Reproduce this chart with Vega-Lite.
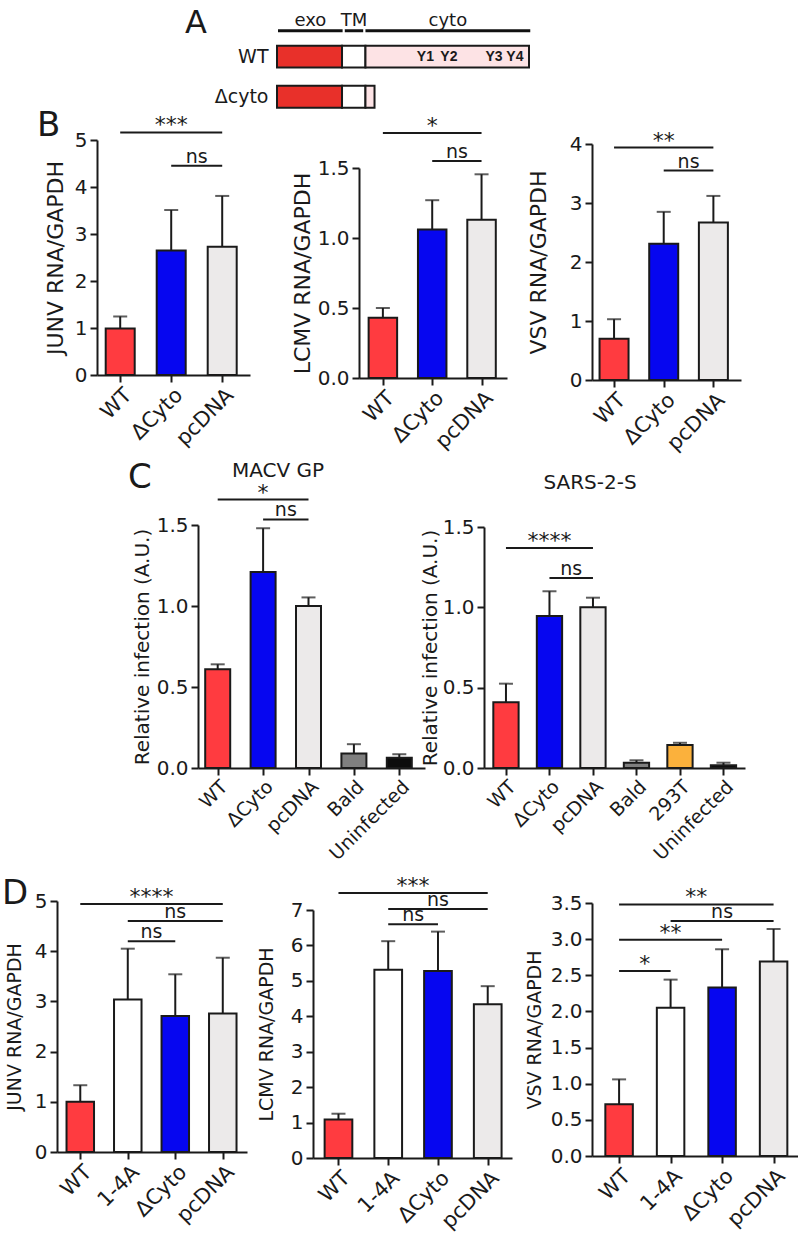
{
  "$schema": "https://vega.github.io/schema/vega-lite/v6.json",
  "padding": 0,
  "autosize": {"type": "pad"},
  "spacing": 0,
  "config": {
    "view": {"stroke": null},
    "font": "DejaVu Sans",
    "axis": {"domainColor": "#1a1a1a", "domainWidth": 2, "tickColor": "#1a1a1a", "tickWidth": 2, "tickSize": 7, "labelColor": "#1a1a1a", "titleColor": "#1a1a1a", "labelFont": "DejaVu Sans", "titleFont": "DejaVu Sans", "titleFontWeight": "normal", "labelFontSize": 20, "titleFontSize": 19, "grid": false, "labelPadding": 3},
    "axisX": {"labelFontSize": 21, "labelAngle": -45, "labelPadding": 2},
    "axisY": {"minExtent": 20, "maxExtent": 20, "titleBaseline": "middle"},
    "title": {"font": "DejaVu Sans", "fontWeight": "normal", "color": "#1a1a1a"},
    "text": {"font": "DejaVu Sans", "color": "#1a1a1a"}
  },
  "datasets": {
    "A_header": [
      {"domain": "exo", "start": 0, "end": 26.5},
      {"domain": "TM", "start": 26.5, "end": 34.7},
      {"domain": "cyto", "start": 34.7, "end": 100.9}
    ],
    "A_constructs": [
      {"construct": "WT", "domain": "exo", "start": 0, "end": 25.8},
      {"construct": "WT", "domain": "TM", "start": 25.8, "end": 35.1},
      {"construct": "WT", "domain": "cyto", "start": 35.1, "end": 100},
      {"construct": "Δcyto", "domain": "exo", "start": 0, "end": 25.8},
      {"construct": "Δcyto", "domain": "TM", "start": 25.8, "end": 35.1},
      {"construct": "Δcyto", "domain": "cyto", "start": 35.1, "end": 38.7}
    ],
    "A_sites": [
      {"construct": "WT", "site": "Y1", "pos": 58.9},
      {"construct": "WT", "site": "Y2", "pos": 68.2},
      {"construct": "WT", "site": "Y3", "pos": 86.1},
      {"construct": "WT", "site": "Y4", "pos": 94.4}
    ],
    "B1": [
      {"group": "WT", "value": 0.99, "upper": 1.245},
      {"group": "ΔCyto", "value": 2.65, "upper": 3.51},
      {"group": "pcDNA", "value": 2.73, "upper": 3.81}
    ],
    "B1s": [
      {"from": "WT", "to": "pcDNA", "mid": "ΔCyto", "label": "***", "level": 5.16},
      {"from": "ΔCyto", "to": "pcDNA", "mid": "ΔCyto|pcDNA", "label": "ns", "level": 4.45}
    ],
    "B2": [
      {"group": "WT", "value": 0.43, "upper": 0.5},
      {"group": "ΔCyto", "value": 1.06, "upper": 1.27},
      {"group": "pcDNA", "value": 1.13, "upper": 1.455}
    ],
    "B2s": [
      {"from": "WT", "to": "pcDNA", "mid": "ΔCyto", "label": "*", "level": 1.75},
      {"from": "ΔCyto", "to": "pcDNA", "mid": "ΔCyto|pcDNA", "label": "ns", "level": 1.55}
    ],
    "B3": [
      {"group": "WT", "value": 0.7, "upper": 1.03},
      {"group": "ΔCyto", "value": 2.31, "upper": 2.85},
      {"group": "pcDNA", "value": 2.67, "upper": 3.12}
    ],
    "B3s": [
      {"from": "WT", "to": "pcDNA", "mid": "ΔCyto", "label": "**", "level": 3.94},
      {"from": "ΔCyto", "to": "pcDNA", "mid": "ΔCyto|pcDNA", "label": "ns", "level": 3.55}
    ],
    "C1": [
      {"group": "WT", "value": 0.61, "upper": 0.64},
      {"group": "ΔCyto", "value": 1.21, "upper": 1.48},
      {"group": "pcDNA", "value": 1.0, "upper": 1.053},
      {"group": "Bald", "value": 0.09, "upper": 0.147},
      {"group": "Uninfected", "value": 0.064, "upper": 0.085}
    ],
    "C1s": [
      {"from": "WT", "to": "pcDNA", "mid": "ΔCyto", "label": "*", "level": 1.657},
      {"from": "ΔCyto", "to": "pcDNA", "mid": "ΔCyto|pcDNA", "label": "ns", "level": 1.534}
    ],
    "C2": [
      {"group": "WT", "value": 0.41, "upper": 0.525},
      {"group": "ΔCyto", "value": 0.946, "upper": 1.1},
      {"group": "pcDNA", "value": 1.0, "upper": 1.06},
      {"group": "Bald", "value": 0.033, "upper": 0.048},
      {"group": "293T", "value": 0.143, "upper": 0.157},
      {"group": "Uninfected", "value": 0.017, "upper": 0.033}
    ],
    "C2s": [
      {"from": "WT", "to": "pcDNA", "mid": "ΔCyto", "label": "****", "level": 1.369},
      {"from": "ΔCyto", "to": "pcDNA", "mid": "ΔCyto|pcDNA", "label": "ns", "level": 1.182}
    ],
    "D1": [
      {"group": "WT", "value": 1.0, "upper": 1.33},
      {"group": "1-4A", "value": 3.04, "upper": 4.05},
      {"group": "ΔCyto", "value": 2.71, "upper": 3.54},
      {"group": "pcDNA", "value": 2.76, "upper": 3.87}
    ],
    "D1s": [
      {"from": "WT", "to": "pcDNA", "mid": "1-4A|ΔCyto", "label": "****", "level": 4.94},
      {"from": "1-4A", "to": "pcDNA", "mid": "ΔCyto", "label": "ns", "level": 4.6},
      {"from": "1-4A", "to": "ΔCyto", "mid": "1-4A|ΔCyto", "label": "ns", "level": 4.2}
    ],
    "D2": [
      {"group": "WT", "value": 1.09, "upper": 1.25},
      {"group": "1-4A", "value": 5.31, "upper": 6.12},
      {"group": "ΔCyto", "value": 5.28, "upper": 6.39},
      {"group": "pcDNA", "value": 4.34, "upper": 4.85}
    ],
    "D2s": [
      {"from": "WT", "to": "pcDNA", "mid": "1-4A|ΔCyto", "label": "***", "level": 7.48},
      {"from": "1-4A", "to": "pcDNA", "mid": "ΔCyto", "label": "ns", "level": 7.03},
      {"from": "1-4A", "to": "ΔCyto", "mid": "1-4A|ΔCyto", "label": "ns", "level": 6.6}
    ],
    "D3": [
      {"group": "WT", "value": 0.716, "upper": 1.06},
      {"group": "1-4A", "value": 2.05, "upper": 2.44},
      {"group": "ΔCyto", "value": 2.33, "upper": 2.86},
      {"group": "pcDNA", "value": 2.69, "upper": 3.14}
    ],
    "D3s": [
      {"from": "WT", "to": "pcDNA", "mid": "1-4A|ΔCyto", "label": "**", "level": 3.48},
      {"from": "1-4A", "to": "pcDNA", "mid": "ΔCyto", "label": "ns", "level": 3.25},
      {"from": "WT", "to": "ΔCyto", "mid": "1-4A", "label": "**", "level": 2.99},
      {"from": "WT", "to": "1-4A", "mid": "WT|1-4A", "label": "*", "level": 2.56}
    ]
  },
  "vconcat": [
    {
      "hconcat": [
        {"width": 277, "height": 108, "data": {"values": []}, "mark": "point",
         "title": {"text": "A", "fontSize": 32, "anchor": "start", "frame": "group", "orient": "top", "offset": -39.7, "dx": 185}},
        {
          "width": 252, "height": 108,
          "resolve": {"scale": {"y": "independent"}},
          "layer": [
            {"data": {"name": "A_header"},
             "mark": {"type": "bar", "color": "#111111", "stroke": "#ffffff", "strokeWidth": 2},
             "encoding": {
               "x": {"field": "start", "type": "quantitative", "scale": {"domain": [0, 100], "nice": false, "zero": false}, "axis": null},
               "x2": {"field": "end"},
               "y": {"datum": "line", "type": "nominal", "scale": {"type": "band", "domain": ["label", "line"], "range": [18.8, 33.3], "paddingInner": 0.474, "paddingOuter": 0}, "axis": null}
             }},
            {"data": {"name": "A_header"},
             "transform": [{"fold": ["start", "end"], "as": ["edge", "pos"]}],
             "mark": {"type": "text", "fontSize": 18, "baseline": "middle", "align": "center"},
             "encoding": {
               "x": {"aggregate": "mean", "field": "pos", "type": "quantitative"},
               "y": {"datum": "label", "type": "nominal", "scale": {"type": "band", "domain": ["label", "line"], "range": [18.8, 33.3], "paddingInner": 0.474, "paddingOuter": 0}, "axis": null},
               "text": {"field": "domain"}
             }},
            {"data": {"name": "A_constructs"},
             "mark": {"type": "bar", "stroke": "#1a1a1a", "strokeWidth": 2},
             "encoding": {
               "x": {"field": "start", "type": "quantitative"},
               "x2": {"field": "end"},
               "y": {"field": "construct", "type": "nominal", "title": null,
                     "scale": {"type": "band", "domain": ["WT", "Δcyto"], "range": [45.7, 107.7], "paddingInner": 0.454, "paddingOuter": 0},
                     "axis": {"domain": false, "ticks": false, "labelPadding": 9, "labelFontSize": 19}},
               "fill": {"field": "domain", "type": "nominal", "scale": {"domain": ["exo", "TM", "cyto"], "range": ["#E8302A", "#FFFFFF", "#FDE3E5"]}, "legend": null}
             }},
            {"data": {"name": "A_sites"},
             "mark": {"type": "text", "fontSize": 14, "fontWeight": "bold", "font": "Liberation Sans", "baseline": "middle", "align": "center"},
             "encoding": {
               "x": {"field": "pos", "type": "quantitative"},
               "y": {"field": "construct", "type": "nominal", "scale": {"type": "band", "domain": ["WT", "Δcyto"], "range": [45.7, 107.7], "paddingInner": 0.454, "paddingOuter": 0}, "axis": null},
               "text": {"field": "site"}
             }}
          ]
        }
      ],
      "spacing": 0, "bounds": "flush"
    },
    {
      "hconcat": [
        {"width": 97, "height": 352, "data": {"values": []}, "mark": "point",
         "title": {"text": "B", "fontSize": 34, "anchor": "start", "frame": "group", "orient": "top", "offset": -34, "dx": 37}},
        {
          "width": 153, "height": 266,
          "layer": [
            {"data": {"name": "B1"}, "mark": {"type": "bar", "width": 29, "stroke": "#1a1a1a", "strokeWidth": 2},
             "encoding": {
               "x": {"field": "group", "type": "nominal", "title": null, "scale": {"type": "point", "domain": ["WT", "WT|ΔCyto", "ΔCyto", "ΔCyto|pcDNA", "pcDNA"], "padding": 1.517, "align": 0.455}, "axis": {"values": ["WT", "ΔCyto", "pcDNA"]}},
               "y": {"field": "value", "type": "quantitative", "scale": {"domain": [0, 5], "range": [266, 31], "nice": false, "zero": true}, "axis": {"title": "JUNV RNA/GAPDH", "titleFontSize": 22, "titleX": -42, "values": [0, 1, 2, 3, 4, 5], "format": "d"}},
               "color": {"field": "group", "type": "nominal", "scale": {"domain": ["WT", "1-4A", "ΔCyto", "pcDNA", "Bald", "293T", "Uninfected"], "range": ["#FF3B40", "#FFFFFF", "#0606F0", "#ECEAEA", "#7F7F7F", "#FBB13C", "#0D0D0D"]}, "legend": null}
             }},
            {"data": {"name": "B1"}, "mark": {"type": "rule", "color": "#1a1a1a", "strokeWidth": 2},
             "encoding": {"x": {"field": "group", "type": "nominal", "title": null}, "y": {"field": "value", "type": "quantitative"}, "y2": {"field": "upper"}}},
            {"data": {"name": "B1"}, "mark": {"type": "tick", "color": "#1a1a1a", "thickness": 2, "size": 14, "orient": "horizontal"},
             "encoding": {"x": {"field": "group", "type": "nominal", "title": null}, "y": {"field": "upper", "type": "quantitative"}}},
            {"data": {"name": "B1s"}, "mark": {"type": "rule", "color": "#1a1a1a", "strokeWidth": 2},
             "encoding": {"x": {"field": "from", "type": "nominal", "title": null}, "x2": {"field": "to"}, "y": {"field": "level", "type": "quantitative"}}},
            {"data": {"name": "B1s"}, "transform": [{"filter": "datum.label !== 'ns'"}], "mark": {"type": "text", "fontSize": 22, "dy": 0, "baseline": "alphabetic"},
             "encoding": {"x": {"field": "mid", "type": "nominal", "title": null}, "y": {"field": "level", "type": "quantitative"}, "text": {"field": "label"}}},
            {"data": {"name": "B1s"}, "transform": [{"filter": "datum.label === 'ns'"}], "mark": {"type": "text", "fontSize": 19, "dy": -3, "baseline": "alphabetic"},
             "encoding": {"x": {"field": "mid", "type": "nominal", "title": null}, "y": {"field": "level", "type": "quantitative"}, "text": {"field": "label"}}}
          ]
        },
        {"width": 109, "height": 1, "data": {"values": []}, "mark": "point"},
        {
          "width": 148, "height": 269,
          "layer": [
            {"data": {"name": "B2"}, "mark": {"type": "bar", "width": 28.5, "stroke": "#1a1a1a", "strokeWidth": 2},
             "encoding": {
               "x": {"field": "group", "type": "nominal", "title": null, "scale": {"type": "point", "domain": ["WT", "WT|ΔCyto", "ΔCyto", "ΔCyto|pcDNA", "pcDNA"], "padding": 1.442, "align": 0.484}, "axis": {"values": ["WT", "ΔCyto", "pcDNA"]}},
               "y": {"field": "value", "type": "quantitative", "scale": {"domain": [0, 1.5], "range": [269, 59], "nice": false, "zero": true}, "axis": {"title": "LCMV RNA/GAPDH", "titleFontSize": 22, "titleX": -57, "values": [0, 0.5, 1, 1.5], "format": ".1f"}},
               "color": {"field": "group", "type": "nominal", "scale": {"domain": ["WT", "1-4A", "ΔCyto", "pcDNA", "Bald", "293T", "Uninfected"], "range": ["#FF3B40", "#FFFFFF", "#0606F0", "#ECEAEA", "#7F7F7F", "#FBB13C", "#0D0D0D"]}, "legend": null}
             }},
            {"data": {"name": "B2"}, "mark": {"type": "rule", "color": "#1a1a1a", "strokeWidth": 2},
             "encoding": {"x": {"field": "group", "type": "nominal", "title": null}, "y": {"field": "value", "type": "quantitative"}, "y2": {"field": "upper"}}},
            {"data": {"name": "B2"}, "mark": {"type": "tick", "color": "#1a1a1a", "thickness": 2, "size": 14, "orient": "horizontal"},
             "encoding": {"x": {"field": "group", "type": "nominal", "title": null}, "y": {"field": "upper", "type": "quantitative"}}},
            {"data": {"name": "B2s"}, "mark": {"type": "rule", "color": "#1a1a1a", "strokeWidth": 2},
             "encoding": {"x": {"field": "from", "type": "nominal", "title": null}, "x2": {"field": "to"}, "y": {"field": "level", "type": "quantitative"}}},
            {"data": {"name": "B2s"}, "transform": [{"filter": "datum.label !== 'ns'"}], "mark": {"type": "text", "fontSize": 22, "dy": 0, "baseline": "alphabetic"},
             "encoding": {"x": {"field": "mid", "type": "nominal", "title": null}, "y": {"field": "level", "type": "quantitative"}, "text": {"field": "label"}}},
            {"data": {"name": "B2s"}, "transform": [{"filter": "datum.label === 'ns'"}], "mark": {"type": "text", "fontSize": 19, "dy": -3, "baseline": "alphabetic"},
             "encoding": {"x": {"field": "mid", "type": "nominal", "title": null}, "y": {"field": "level", "type": "quantitative"}, "text": {"field": "label"}}}
          ]
        },
        {"width": 85, "height": 1, "data": {"values": []}, "mark": "point"},
        {
          "width": 149, "height": 271,
          "layer": [
            {"data": {"name": "B3"}, "mark": {"type": "bar", "width": 29, "stroke": "#1a1a1a", "strokeWidth": 2},
             "encoding": {
               "x": {"field": "group", "type": "nominal", "title": null, "scale": {"type": "point", "domain": ["WT", "WT|ΔCyto", "ΔCyto", "ΔCyto|pcDNA", "pcDNA"], "padding": 1.465, "align": 0.444}, "axis": {"values": ["WT", "ΔCyto", "pcDNA"]}},
               "y": {"field": "value", "type": "quantitative", "scale": {"domain": [0, 4], "range": [271, 35], "nice": false, "zero": true}, "axis": {"title": "VSV RNA/GAPDH", "titleFontSize": 22, "titleX": -54, "values": [0, 1, 2, 3, 4], "format": "d"}},
               "color": {"field": "group", "type": "nominal", "scale": {"domain": ["WT", "1-4A", "ΔCyto", "pcDNA", "Bald", "293T", "Uninfected"], "range": ["#FF3B40", "#FFFFFF", "#0606F0", "#ECEAEA", "#7F7F7F", "#FBB13C", "#0D0D0D"]}, "legend": null}
             }},
            {"data": {"name": "B3"}, "mark": {"type": "rule", "color": "#1a1a1a", "strokeWidth": 2},
             "encoding": {"x": {"field": "group", "type": "nominal", "title": null}, "y": {"field": "value", "type": "quantitative"}, "y2": {"field": "upper"}}},
            {"data": {"name": "B3"}, "mark": {"type": "tick", "color": "#1a1a1a", "thickness": 2, "size": 14, "orient": "horizontal"},
             "encoding": {"x": {"field": "group", "type": "nominal", "title": null}, "y": {"field": "upper", "type": "quantitative"}}},
            {"data": {"name": "B3s"}, "mark": {"type": "rule", "color": "#1a1a1a", "strokeWidth": 2},
             "encoding": {"x": {"field": "from", "type": "nominal", "title": null}, "x2": {"field": "to"}, "y": {"field": "level", "type": "quantitative"}}},
            {"data": {"name": "B3s"}, "transform": [{"filter": "datum.label !== 'ns'"}], "mark": {"type": "text", "fontSize": 22, "dy": 0, "baseline": "alphabetic"},
             "encoding": {"x": {"field": "mid", "type": "nominal", "title": null}, "y": {"field": "level", "type": "quantitative"}, "text": {"field": "label"}}},
            {"data": {"name": "B3s"}, "transform": [{"filter": "datum.label === 'ns'"}], "mark": {"type": "text", "fontSize": 19, "dy": -3, "baseline": "alphabetic"},
             "encoding": {"x": {"field": "mid", "type": "nominal", "title": null}, "y": {"field": "level", "type": "quantitative"}, "text": {"field": "label"}}}
          ]
        }
      ],
      "spacing": 0, "bounds": "flush"
    },
    {
      "hconcat": [
        {"width": 198, "height": 406, "data": {"values": []}, "mark": "point",
         "title": {"text": "C", "fontSize": 34, "anchor": "start", "frame": "group", "orient": "top", "offset": -34, "dx": 128}},
        {
          "width": 227, "height": 307,
          "title": {"text": "MACV GP", "fontSize": 20, "anchor": "middle", "frame": "group", "orient": "top", "offset": -20, "dx": -33.5},
          "layer": [
            {"data": {"name": "C1"}, "mark": {"type": "bar", "width": 25, "stroke": "#1a1a1a", "strokeWidth": 2},
             "encoding": {
               "x": {"field": "group", "type": "nominal", "title": null, "scale": {"type": "point", "domain": ["WT", "WT|ΔCyto", "ΔCyto", "ΔCyto|pcDNA", "pcDNA", "pcDNA|Bald", "Bald", "Bald|Uninfected", "Uninfected"], "padding": 1.55, "align": 0.434}, "axis": {"values": ["WT", "ΔCyto", "pcDNA", "Bald", "Uninfected"], "labelFontSize": 19}},
               "y": {"field": "value", "type": "quantitative", "scale": {"domain": [0, 1.5], "range": [307, 64], "nice": false, "zero": true}, "axis": {"title": "Relative infection (A.U.)", "titleFontSize": 20, "titleX": -56, "values": [0, 0.5, 1, 1.5], "format": ".1f"}},
               "color": {"field": "group", "type": "nominal", "scale": {"domain": ["WT", "1-4A", "ΔCyto", "pcDNA", "Bald", "293T", "Uninfected"], "range": ["#FF3B40", "#FFFFFF", "#0606F0", "#ECEAEA", "#7F7F7F", "#FBB13C", "#0D0D0D"]}, "legend": null}
             }},
            {"data": {"name": "C1"}, "mark": {"type": "rule", "color": "#1a1a1a", "strokeWidth": 2},
             "encoding": {"x": {"field": "group", "type": "nominal", "title": null}, "y": {"field": "value", "type": "quantitative"}, "y2": {"field": "upper"}}},
            {"data": {"name": "C1"}, "mark": {"type": "tick", "color": "#1a1a1a", "thickness": 2, "size": 14, "orient": "horizontal"},
             "encoding": {"x": {"field": "group", "type": "nominal", "title": null}, "y": {"field": "upper", "type": "quantitative"}}},
            {"data": {"name": "C1s"}, "mark": {"type": "rule", "color": "#1a1a1a", "strokeWidth": 2},
             "encoding": {"x": {"field": "from", "type": "nominal", "title": null}, "x2": {"field": "to"}, "y": {"field": "level", "type": "quantitative"}}},
            {"data": {"name": "C1s"}, "transform": [{"filter": "datum.label !== 'ns'"}], "mark": {"type": "text", "fontSize": 22, "dy": 0, "baseline": "alphabetic"},
             "encoding": {"x": {"field": "mid", "type": "nominal", "title": null}, "y": {"field": "level", "type": "quantitative"}, "text": {"field": "label"}}},
            {"data": {"name": "C1s"}, "transform": [{"filter": "datum.label === 'ns'"}], "mark": {"type": "text", "fontSize": 19, "dy": -3, "baseline": "alphabetic"},
             "encoding": {"x": {"field": "mid", "type": "nominal", "title": null}, "y": {"field": "level", "type": "quantitative"}, "text": {"field": "label"}}}
          ]
        },
        {"width": 59, "height": 1, "data": {"values": []}, "mark": "point"},
        {
          "width": 261, "height": 307,
          "title": {"text": "SARS-2-S", "fontSize": 20, "anchor": "middle", "frame": "group", "orient": "top", "offset": -31.6, "dx": -24.5},
          "layer": [
            {"data": {"name": "C2"}, "mark": {"type": "bar", "width": 25.3, "stroke": "#1a1a1a", "strokeWidth": 2},
             "encoding": {
               "x": {"field": "group", "type": "nominal", "title": null, "scale": {"type": "point", "domain": ["WT", "WT|ΔCyto", "ΔCyto", "ΔCyto|pcDNA", "pcDNA", "pcDNA|Bald", "Bald", "Bald|293T", "293T", "293T|Uninfected", "Uninfected"], "padding": 1.32, "align": 0.505}, "axis": {"values": ["WT", "ΔCyto", "pcDNA", "Bald", "293T", "Uninfected"], "labelFontSize": 19}},
               "y": {"field": "value", "type": "quantitative", "scale": {"domain": [0, 1.5], "range": [307, 66], "nice": false, "zero": true}, "axis": {"title": "Relative infection (A.U.)", "titleFontSize": 20, "titleX": -54, "values": [0, 0.5, 1, 1.5], "format": ".1f"}},
               "color": {"field": "group", "type": "nominal", "scale": {"domain": ["WT", "1-4A", "ΔCyto", "pcDNA", "Bald", "293T", "Uninfected"], "range": ["#FF3B40", "#FFFFFF", "#0606F0", "#ECEAEA", "#7F7F7F", "#FBB13C", "#0D0D0D"]}, "legend": null}
             }},
            {"data": {"name": "C2"}, "mark": {"type": "rule", "color": "#1a1a1a", "strokeWidth": 2},
             "encoding": {"x": {"field": "group", "type": "nominal", "title": null}, "y": {"field": "value", "type": "quantitative"}, "y2": {"field": "upper"}}},
            {"data": {"name": "C2"}, "mark": {"type": "tick", "color": "#1a1a1a", "thickness": 2, "size": 14, "orient": "horizontal"},
             "encoding": {"x": {"field": "group", "type": "nominal", "title": null}, "y": {"field": "upper", "type": "quantitative"}}},
            {"data": {"name": "C2s"}, "mark": {"type": "rule", "color": "#1a1a1a", "strokeWidth": 2},
             "encoding": {"x": {"field": "from", "type": "nominal", "title": null}, "x2": {"field": "to"}, "y": {"field": "level", "type": "quantitative"}}},
            {"data": {"name": "C2s"}, "transform": [{"filter": "datum.label !== 'ns'"}], "mark": {"type": "text", "fontSize": 22, "dy": 0, "baseline": "alphabetic"},
             "encoding": {"x": {"field": "mid", "type": "nominal", "title": null}, "y": {"field": "level", "type": "quantitative"}, "text": {"field": "label"}}},
            {"data": {"name": "C2s"}, "transform": [{"filter": "datum.label === 'ns'"}], "mark": {"type": "text", "fontSize": 19, "dy": -3, "baseline": "alphabetic"},
             "encoding": {"x": {"field": "mid", "type": "nominal", "title": null}, "y": {"field": "level", "type": "quantitative"}, "text": {"field": "label"}}}
          ]
        }
      ],
      "spacing": 0, "bounds": "flush"
    },
    {
      "hconcat": [
        {"width": 57, "height": 1, "data": {"values": []}, "mark": "point",
         "title": {"text": "D", "fontSize": 34, "anchor": "start", "frame": "group", "orient": "top", "offset": -43.6, "dx": 2}},
        {
          "width": 190, "height": 285,
          "layer": [
            {"data": {"name": "D1"}, "mark": {"type": "bar", "width": 27.5, "stroke": "#1a1a1a", "strokeWidth": 2},
             "encoding": {
               "x": {"field": "group", "type": "nominal", "title": null, "scale": {"type": "point", "domain": ["WT", "WT|1-4A", "1-4A", "1-4A|ΔCyto", "ΔCyto", "ΔCyto|pcDNA", "pcDNA"], "padding": 1.352, "align": 0.49}, "axis": {"values": ["WT", "1-4A", "ΔCyto", "pcDNA"]}},
               "y": {"field": "value", "type": "quantitative", "scale": {"domain": [0, 5], "range": [285, 34], "nice": false, "zero": true}, "axis": {"title": "JUNV RNA/GAPDH", "titleX": -43, "values": [0, 1, 2, 3, 4, 5], "format": "d"}},
               "color": {"field": "group", "type": "nominal", "scale": {"domain": ["WT", "1-4A", "ΔCyto", "pcDNA", "Bald", "293T", "Uninfected"], "range": ["#FF3B40", "#FFFFFF", "#0606F0", "#ECEAEA", "#7F7F7F", "#FBB13C", "#0D0D0D"]}, "legend": null}
             }},
            {"data": {"name": "D1"}, "mark": {"type": "rule", "color": "#1a1a1a", "strokeWidth": 2},
             "encoding": {"x": {"field": "group", "type": "nominal", "title": null}, "y": {"field": "value", "type": "quantitative"}, "y2": {"field": "upper"}}},
            {"data": {"name": "D1"}, "mark": {"type": "tick", "color": "#1a1a1a", "thickness": 2, "size": 14, "orient": "horizontal"},
             "encoding": {"x": {"field": "group", "type": "nominal", "title": null}, "y": {"field": "upper", "type": "quantitative"}}},
            {"data": {"name": "D1s"}, "mark": {"type": "rule", "color": "#1a1a1a", "strokeWidth": 2},
             "encoding": {"x": {"field": "from", "type": "nominal", "title": null}, "x2": {"field": "to"}, "y": {"field": "level", "type": "quantitative"}}},
            {"data": {"name": "D1s"}, "transform": [{"filter": "datum.label !== 'ns'"}], "mark": {"type": "text", "fontSize": 22, "dy": 0, "baseline": "alphabetic"},
             "encoding": {"x": {"field": "mid", "type": "nominal", "title": null}, "y": {"field": "level", "type": "quantitative"}, "text": {"field": "label"}}},
            {"data": {"name": "D1s"}, "transform": [{"filter": "datum.label === 'ns'"}], "mark": {"type": "text", "fontSize": 19, "dy": -3, "baseline": "alphabetic"},
             "encoding": {"x": {"field": "mid", "type": "nominal", "title": null}, "y": {"field": "level", "type": "quantitative"}, "text": {"field": "label"}}}
          ]
        },
        {"width": 66, "height": 1, "data": {"values": []}, "mark": "point"},
        {
          "width": 199, "height": 291,
          "layer": [
            {"data": {"name": "D2"}, "mark": {"type": "bar", "width": 27.7, "stroke": "#1a1a1a", "strokeWidth": 2},
             "encoding": {
               "x": {"field": "group", "type": "nominal", "title": null, "scale": {"type": "point", "domain": ["WT", "WT|1-4A", "1-4A", "1-4A|ΔCyto", "ΔCyto", "ΔCyto|pcDNA", "pcDNA"], "padding": 1.406, "align": 0.512}, "axis": {"values": ["WT", "1-4A", "ΔCyto", "pcDNA"]}},
               "y": {"field": "value", "type": "quantitative", "scale": {"domain": [0, 7], "range": [291, 43], "nice": false, "zero": true}, "axis": {"title": "LCMV RNA/GAPDH", "titleX": -47, "values": [0, 1, 2, 3, 4, 5, 6, 7], "format": "d"}},
               "color": {"field": "group", "type": "nominal", "scale": {"domain": ["WT", "1-4A", "ΔCyto", "pcDNA", "Bald", "293T", "Uninfected"], "range": ["#FF3B40", "#FFFFFF", "#0606F0", "#ECEAEA", "#7F7F7F", "#FBB13C", "#0D0D0D"]}, "legend": null}
             }},
            {"data": {"name": "D2"}, "mark": {"type": "rule", "color": "#1a1a1a", "strokeWidth": 2},
             "encoding": {"x": {"field": "group", "type": "nominal", "title": null}, "y": {"field": "value", "type": "quantitative"}, "y2": {"field": "upper"}}},
            {"data": {"name": "D2"}, "mark": {"type": "tick", "color": "#1a1a1a", "thickness": 2, "size": 14, "orient": "horizontal"},
             "encoding": {"x": {"field": "group", "type": "nominal", "title": null}, "y": {"field": "upper", "type": "quantitative"}}},
            {"data": {"name": "D2s"}, "mark": {"type": "rule", "color": "#1a1a1a", "strokeWidth": 2},
             "encoding": {"x": {"field": "from", "type": "nominal", "title": null}, "x2": {"field": "to"}, "y": {"field": "level", "type": "quantitative"}}},
            {"data": {"name": "D2s"}, "transform": [{"filter": "datum.label !== 'ns'"}], "mark": {"type": "text", "fontSize": 22, "dy": 0, "baseline": "alphabetic"},
             "encoding": {"x": {"field": "mid", "type": "nominal", "title": null}, "y": {"field": "level", "type": "quantitative"}, "text": {"field": "label"}}},
            {"data": {"name": "D2s"}, "transform": [{"filter": "datum.label === 'ns'"}], "mark": {"type": "text", "fontSize": 19, "dy": -3, "baseline": "alphabetic"},
             "encoding": {"x": {"field": "mid", "type": "nominal", "title": null}, "y": {"field": "level", "type": "quantitative"}, "text": {"field": "label"}}}
          ]
        },
        {"width": 80, "height": 1, "data": {"values": []}, "mark": "point"},
        {
          "width": 206, "height": 289,
          "layer": [
            {"data": {"name": "D3"}, "mark": {"type": "bar", "width": 27.5, "stroke": "#1a1a1a", "strokeWidth": 2},
             "encoding": {
               "x": {"field": "group", "type": "nominal", "title": null, "scale": {"type": "point", "domain": ["WT", "WT|1-4A", "1-4A", "1-4A|ΔCyto", "ΔCyto", "ΔCyto|pcDNA", "pcDNA"], "padding": 1.43, "align": 0.526}, "axis": {"values": ["WT", "1-4A", "ΔCyto", "pcDNA"]}},
               "y": {"field": "value", "type": "quantitative", "scale": {"domain": [0, 3.5], "range": [289, 36], "nice": false, "zero": true}, "axis": {"title": "VSV RNA/GAPDH", "titleX": -58, "values": [0, 0.5, 1, 1.5, 2, 2.5, 3, 3.5], "format": ".1f"}},
               "color": {"field": "group", "type": "nominal", "scale": {"domain": ["WT", "1-4A", "ΔCyto", "pcDNA", "Bald", "293T", "Uninfected"], "range": ["#FF3B40", "#FFFFFF", "#0606F0", "#ECEAEA", "#7F7F7F", "#FBB13C", "#0D0D0D"]}, "legend": null}
             }},
            {"data": {"name": "D3"}, "mark": {"type": "rule", "color": "#1a1a1a", "strokeWidth": 2},
             "encoding": {"x": {"field": "group", "type": "nominal", "title": null}, "y": {"field": "value", "type": "quantitative"}, "y2": {"field": "upper"}}},
            {"data": {"name": "D3"}, "mark": {"type": "tick", "color": "#1a1a1a", "thickness": 2, "size": 14, "orient": "horizontal"},
             "encoding": {"x": {"field": "group", "type": "nominal", "title": null}, "y": {"field": "upper", "type": "quantitative"}}},
            {"data": {"name": "D3s"}, "mark": {"type": "rule", "color": "#1a1a1a", "strokeWidth": 2},
             "encoding": {"x": {"field": "from", "type": "nominal", "title": null}, "x2": {"field": "to"}, "y": {"field": "level", "type": "quantitative"}}},
            {"data": {"name": "D3s"}, "transform": [{"filter": "datum.label !== 'ns'"}], "mark": {"type": "text", "fontSize": 22, "dy": 0, "baseline": "alphabetic"},
             "encoding": {"x": {"field": "mid", "type": "nominal", "title": null}, "y": {"field": "level", "type": "quantitative"}, "text": {"field": "label"}}},
            {"data": {"name": "D3s"}, "transform": [{"filter": "datum.label === 'ns'"}], "mark": {"type": "text", "fontSize": 19, "dy": -3, "baseline": "alphabetic"},
             "encoding": {"x": {"field": "mid", "type": "nominal", "title": null}, "y": {"field": "level", "type": "quantitative"}, "text": {"field": "label"}}}
          ]
        }
      ],
      "spacing": 0, "bounds": "flush"
    }
  ]
}
